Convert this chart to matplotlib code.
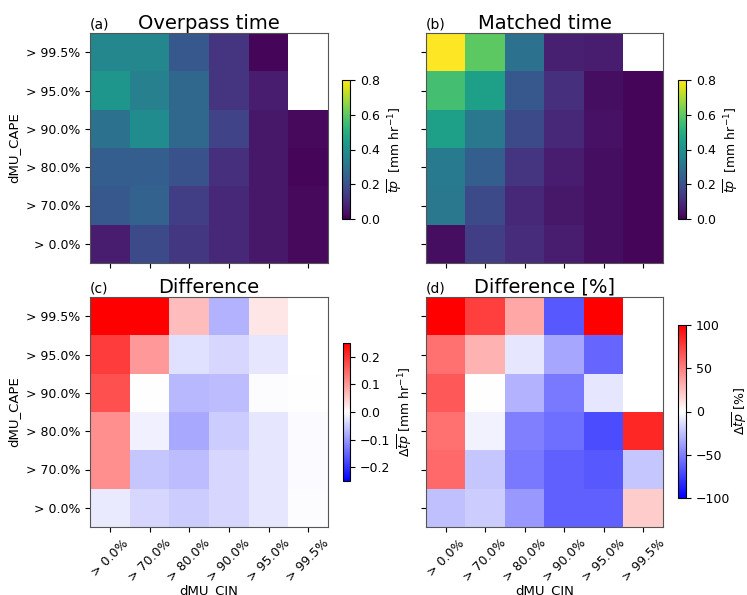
import numpy as np
import matplotlib
matplotlib.use('Agg')
import matplotlib.pyplot as plt

cin_labels = ['> 0.0%', '> 70.0%', '> 80.0%', '> 90.0%', '> 95.0%', '> 99.5%']
cape_labels = ['> 0.0%', '> 70.0%', '> 80.0%', '> 90.0%', '> 95.0%', '> 99.5%']

# rows: dMU_CAPE from > 0.0% (bottom) to > 99.5% (top); columns: dMU_CIN
overpass = np.array([
    [0.06, 0.18, 0.13, 0.09, 0.05, 0.02],
    [0.22, 0.25, 0.15, 0.09, 0.05, 0.02],
    [0.24, 0.24, 0.20, 0.11, 0.05, 0.01],
    [0.30, 0.39, 0.27, 0.16, 0.05, 0.02],
    [0.42, 0.35, 0.27, 0.12, 0.06, np.nan],
    [0.37, 0.37, 0.22, 0.12, 0.01, np.nan],
])
matched = np.array([
    [0.03, 0.15, 0.10, 0.06, 0.03, 0.01],
    [0.32, 0.18, 0.09, 0.05, 0.03, 0.01],
    [0.33, 0.24, 0.12, 0.06, 0.03, 0.01],
    [0.45, 0.32, 0.18, 0.09, 0.04, 0.01],
    [0.56, 0.45, 0.22, 0.11, 0.03, 0.01],
    [0.80, 0.60, 0.30, 0.07, 0.06, np.nan],
])
diff = np.array([
    [-0.02, -0.04, -0.05, -0.04, -0.025, -0.003],
    [0.11, -0.055, -0.065, -0.04, -0.025, -0.005],
    [0.11, -0.015, -0.085, -0.05, -0.025, -0.005],
    [0.17, 0.0, -0.07, -0.065, -0.003, 0.0],
    [0.19, 0.10, -0.03, -0.04, -0.025, np.nan],
    [0.42, 0.25, 0.065, -0.075, 0.025, np.nan],
])
diff_pct = np.array([
    [-25, -20, -40, -62, -62, 20],
    [58, -22, -52, -62, -65, -22],
    [55, -5, -50, -57, -70, 85],
    [65, 0, -30, -52, -10, np.nan],
    [55, 30, -10, -35, -60, np.nan],
    [100, 75, 35, -65, 100, np.nan],
])

fig = plt.figure(figsize=(7.47, 5.95), dpi=100)

W, H = 747, 595
def px(x0, y0, x1, y1):
    return [x0 / W, 1 - y1 / H, (x1 - x0) / W, (y1 - y0) / H]

panels = [
    (overpass, 'viridis', 0, 0.8, '(a)', 'Overpass time', px(90, 33, 328, 263), px(342, 80, 350, 219),
     r'$\overline{tp}$  [mm hr$^{-1}$]', [0, 0.2, 0.4, 0.6, 0.8]),
    (matched, 'viridis', 0, 0.8, '(b)', 'Matched time', px(426, 33, 663, 263), px(678, 80, 686, 219),
     r'$\overline{tp}$  [mm hr$^{-1}$]', [0, 0.2, 0.4, 0.6, 0.8]),
    (diff, 'bwr', -0.25, 0.25, '(c)', 'Difference', px(90, 297, 328, 527), px(343, 343, 350, 481),
     r'$\Delta\overline{tp}$ [mm hr$^{-1}$]', [-0.2, -0.1, 0, 0.1, 0.2]),
    (diff_pct, 'bwr', -100, 100, '(d)', 'Difference [%]', px(426, 297, 663, 527), px(678, 325, 686, 498),
     r'$\Delta\overline{tp}$ [%]', [-100, -50, 0, 50, 100]),
]

for i, (data, cmap, vmin, vmax, tag, title, rect, crect, clabel, cticks) in enumerate(panels):
    ax = fig.add_axes(rect)
    im = ax.imshow(data, cmap=cmap, vmin=vmin, vmax=vmax, origin='lower', aspect='auto')
    ax.set_xticks(range(len(cin_labels)))
    ax.set_yticks(range(len(cape_labels)))
    if i >= 2:
        ax.set_xticklabels(cin_labels, rotation=45, fontsize=9)
        ax.set_xlabel('dMU_CIN', fontsize=9.5, labelpad=0)
    else:
        ax.set_xticklabels([])
    if i % 2 == 0:
        ax.set_yticklabels(cape_labels, fontsize=9)
        ax.set_ylabel('dMU_CAPE', fontsize=9.5)
    else:
        ax.set_yticklabels([])
    ax.set_title(title, fontsize=14, pad=3)
    ax.set_title(tag, loc='left', fontsize=10, pad=3)
    for s in ax.spines.values():
        s.set_color('#555555')
    cax = fig.add_axes(crect)
    cb = fig.colorbar(im, cax=cax, ticks=cticks)
    cb.ax.tick_params(labelsize=9)
    cb.set_label(clabel, fontsize=9, labelpad=0 if i == 3 else 4)

plt.savefig('out.png', dpi=100)
